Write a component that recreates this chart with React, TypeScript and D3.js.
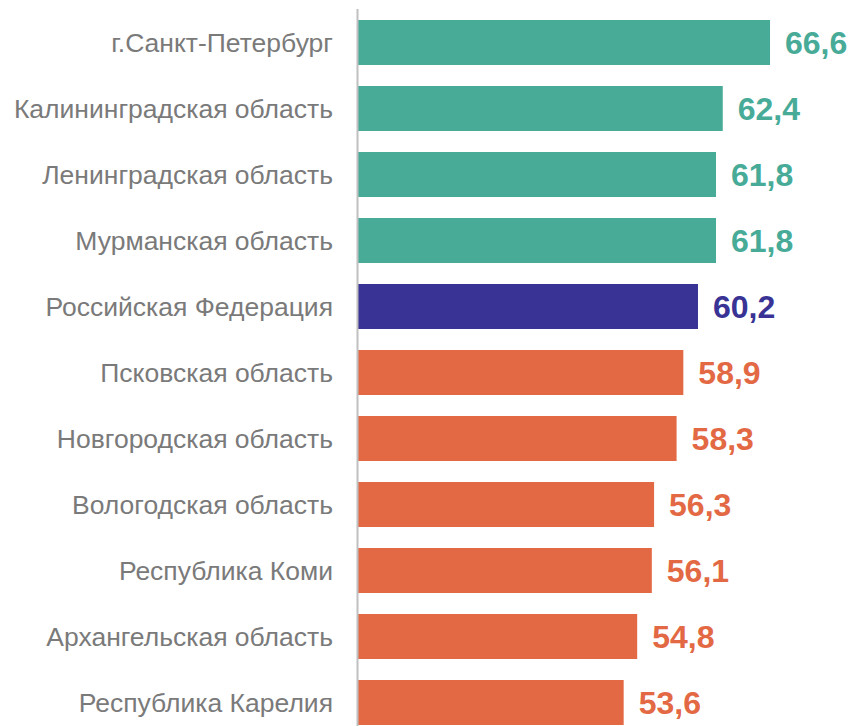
import React from "react";
import * as d3 from "d3";

const categories = [
  "г.Санкт-Петербург",
  "Калининградская область",
  "Ленинградская область",
  "Мурманская область",
  "Российская Федерация",
  "Псковская область",
  "Новгородская область",
  "Вологодская область",
  "Республика Коми",
  "Архангельская область",
  "Республика Карелия",
];
const values = [66.6, 62.4, 61.8, 61.8, 60.2, 58.9, 58.3, 56.3, 56.1, 54.8, 53.6];
const groups = ["high", "high", "high", "high", "rf", "low", "low", "low", "low", "low", "low"];

const colorMap: Record<string, string> = {
  high: "#47AB98",
  rf: "#383394",
  low: "#E36945",
};

const W = 854;
const H = 726;

export default function App() {
  const x = d3.scaleLinear().domain([30, 70]).range([358, 808.3]);
  const y = d3
    .scaleBand<string>()
    .domain(categories)
    .range([9.5, 735.5])
    .paddingInner(21 / 66)
    .paddingOuter(10.5 / 66);
  const fmt = (v: number) => v.toFixed(1).replace(".", ",");
  const font = "'Liberation Sans', Arial, sans-serif";
  return (
    <svg
      width={W}
      height={H}
      style={{ position: "absolute", left: 0, top: 0, display: "block", background: "#fff" }}
    >
      {categories.map((c, i) => {
        const y0 = y(c)!;
        const cy = y0 + y.bandwidth() / 2;
        const col = colorMap[groups[i]];
        return (
          <g key={c}>
            <rect x={x(30)} y={y0} width={x(values[i]) - x(30)} height={y.bandwidth()} fill={col} />
            <text
              x={333}
              y={cy}
              dy="0.36em"
              textAnchor="end"
              fontFamily={font}
              fontSize={26.5}
              fill="#7a7a7a"
            >
              {c}
            </text>
            <text
              x={x(values[i]) + 15}
              y={cy}
              dy="0.36em"
              fontFamily={font}
              fontSize={32}
              fontWeight="bold"
              fill={col}
            >
              {fmt(values[i])}
            </text>
          </g>
        );
      })}
      <line x1={357.5} x2={357.5} y1={9} y2={H} stroke="#c0c0c0" strokeWidth={2} />
    </svg>
  );
}
